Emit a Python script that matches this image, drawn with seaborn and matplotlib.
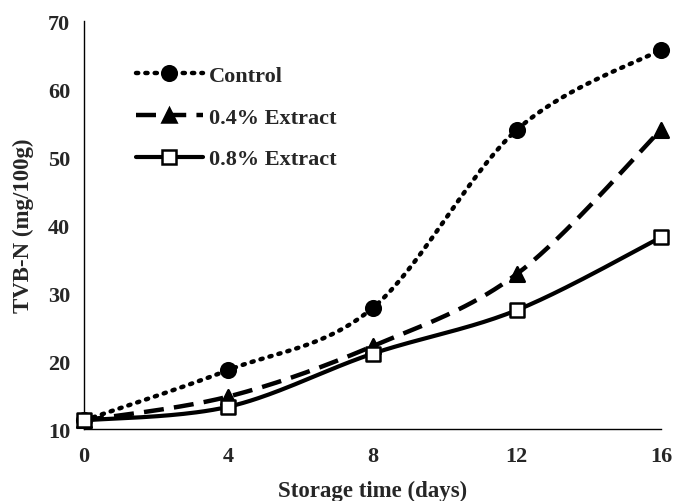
import numpy as np
import pandas as pd
import matplotlib
matplotlib.use("Agg")
import matplotlib.pyplot as plt
import seaborn as sns
from matplotlib.lines import Line2D

days = [0, 4, 8, 12, 16]
control = [11.3, 18.7, 27.8, 54.0, 65.8]
extract_04 = [11.3, 14.8, 22.2, 32.8, 54.0]
extract_08 = [11.3, 13.3, 21.1, 27.5, 38.2]
series_names = ["Control", "0.4% Extract", "0.8% Extract"]

sns.set_theme(style="white")
plt.rcParams['font.family'] = ['Liberation Serif', 'DejaVu Serif']
plt.rcParams['font.weight'] = 'bold'


def smooth(x, y, n=40):
    x = np.asarray(x, float); y = np.asarray(y, float)
    P = np.column_stack([x, y])
    out = []
    for i in range(len(P) - 1):
        p0 = P[i - 1] if i > 0 else P[i]
        p1 = P[i]; p2 = P[i + 1]
        p3 = P[i + 2] if i + 2 < len(P) else P[i + 1]
        c1 = p1 + (p2 - p0) / 6.0
        c2 = p2 - (p3 - p1) / 6.0
        t = np.linspace(0, 1, n)[:, None]
        seg = (1 - t) ** 3 * p1 + 3 * (1 - t) ** 2 * t * c1 + 3 * (1 - t) * t ** 2 * c2 + t ** 3 * p2
        out.append(seg if i == 0 else seg[1:])
    s = np.vstack(out)
    return s[:, 0], s[:, 1]


fig = plt.figure(figsize=(6.73, 5.02), dpi=100)
ax = fig.add_axes([0.125, 0.143, 0.857, 0.813])

styles = {
    "Control": dict(ls=(0, (0.5, 1.6)), lw=3.2, marker="o", ms=10.5, mfc="black"),
    "0.4% Extract": dict(ls=(0, (4.5, 2.3)), lw=3.2, marker="^", ms=10.5, mfc="black"),
    "0.8% Extract": dict(ls="-", lw=3.0, marker="s", ms=10.5, mfc="white"),
}
data = {"Control": control, "0.4% Extract": extract_04, "0.8% Extract": extract_08}

handles = []
for name in series_names:
    st = styles[name]
    sx, sy = smooth(days, data[name])
    df = pd.DataFrame({"x": sx, "y": sy})
    sns.lineplot(data=df, x="x", y="y", ax=ax, color="black", lw=st["lw"],
                 linestyle=st["ls"], sort=False, estimator=None)
    ax.lines[-1].set_dash_capstyle("round" if name == "Control" else "butt")
    pdf = pd.DataFrame({"x": days, "y": data[name]})
    sns.scatterplot(data=pdf, x="x", y="y", ax=ax, marker=st["marker"], s=st["ms"] ** 2,
                    color=st["mfc"], edgecolor="black", linewidth=1.8, zorder=5)
    h = Line2D([], [], color="black", lw=st["lw"], linestyle=st["ls"], marker=st["marker"],
               markersize=st["ms"], markerfacecolor=st["mfc"], markeredgecolor="black",
               markeredgewidth=1.8)
    if name == "Control":
        h.set_dash_capstyle("round")
    handles.append(h)

ax.set_xlim(0, 16)
ax.set_ylim(10, 70)
ax.set_xticks(days)
ax.set_yticks(range(10, 71, 10))
ax.set_xlabel("Storage time (days)", fontsize=16.5, fontweight="bold", labelpad=10)
ax.set_ylabel("TVB-N (mg/100g)", fontsize=16.5, fontweight="bold", labelpad=10)
for lab in ax.get_xticklabels() + ax.get_yticklabels():
    lab.set_fontweight("bold")
    lab.set_fontsize(16)
ax.tick_params(axis="both", direction="out", length=5, width=1, color="black", pad=5)
ax.tick_params(axis="x", pad=7)
for s in ["top", "right"]:
    ax.spines[s].set_visible(False)
for s in ["left", "bottom"]:
    ax.spines[s].set_color("black")
    ax.spines[s].set_linewidth(1.0)
for art in ax.lines + ax.collections:
    art.set_clip_on(False)

ax.legend(handles, series_names, loc="upper left", bbox_to_anchor=(0.055, 0.94),
          frameon=False, handlelength=3.0, numpoints=1,
          prop={"weight": "bold", "size": 16}, labelspacing=0.95, handletextpad=0.3)

fig.savefig("out.png", dpi=100)
